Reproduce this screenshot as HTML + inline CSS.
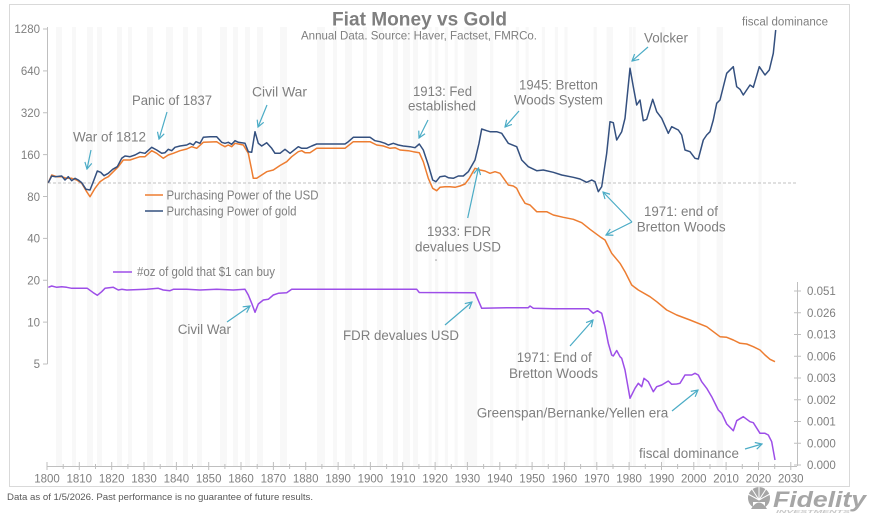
<!DOCTYPE html>
<html><head><meta charset="utf-8"><style>
html,body{margin:0;padding:0;background:#fff;}
svg{display:block;font-family:"Liberation Sans",Arial,sans-serif;}
</style></head><body>
<svg width="880" height="520" viewBox="0 0 880 520" xmlns="http://www.w3.org/2000/svg">
<defs>
<marker id="ah" markerWidth="8" markerHeight="8" refX="7" refY="4" orient="auto" markerUnits="userSpaceOnUse">
<path d="M0.5,0.5 L7,4 L0.5,7.5" fill="none" stroke="#4bacc6" stroke-width="1.2"/>
</marker>
</defs>
<rect x="0" y="0" width="880" height="520" fill="#fff"/>
<rect x="9.5" y="4.5" width="840" height="482" fill="none" stroke="#d9d9d9" stroke-width="1"/>
<!-- recession stripes -->
<g fill="#f8f8f8">
<rect x="56" y="27" width="6" height="439"/>
<rect x="72" y="27" width="4" height="439"/>
<rect x="87" y="27" width="6" height="439"/>
<rect x="97" y="27" width="5" height="439"/>
<rect x="117" y="27" width="5" height="439"/>
<rect x="128" y="27" width="4" height="439"/>
<rect x="147" y="27" width="6" height="439"/>
<rect x="166" y="27" width="7" height="439"/>
<rect x="183" y="27" width="5" height="439"/>
<rect x="197" y="27" width="5" height="439"/>
<rect x="220" y="27" width="7" height="439"/>
<rect x="233" y="27" width="5" height="439"/>
<rect x="245" y="27" width="5" height="439"/>
<rect x="257" y="27" width="6" height="439"/>
<rect x="280" y="27" width="7" height="439"/>
<rect x="317" y="27" width="8" height="439"/>
<rect x="333" y="27" width="4" height="439"/>
<rect x="345" y="27" width="7" height="439"/>
<rect x="363" y="27" width="4" height="439"/>
<rect x="377" y="27" width="6" height="439"/>
<rect x="393" y="27" width="5" height="439"/>
<rect x="403" y="27" width="7" height="439"/>
<rect x="413" y="27" width="5" height="439"/>
<rect x="428.6" y="27" width="3.2" height="439"/>
<rect x="435.1" y="27" width="3.2" height="439"/>
<rect x="444.8" y="27" width="3.2" height="439"/>
<rect x="454.5" y="27" width="3.2" height="439"/>
<rect x="464.2" y="27" width="12.9" height="439"/>
<rect x="490.1" y="27" width="3.2" height="439"/>
<rect x="515.9" y="27" width="3.2" height="439"/>
<rect x="525.6" y="27" width="3.2" height="439"/>
<rect x="541.8" y="27" width="3.2" height="439"/>
<rect x="554.8" y="27" width="3.2" height="439"/>
<rect x="564.4" y="27" width="3.2" height="439"/>
<rect x="593.5" y="27" width="3.2" height="439"/>
<rect x="606.5" y="27" width="6.5" height="439"/>
<rect x="629.1" y="27" width="3" height="439"/>
<rect x="632.8" y="27" width="3" height="439"/>
<rect x="661.5" y="27" width="3.2" height="439"/>
<rect x="697.1" y="27" width="3.2" height="439"/>
<rect x="716.5" y="27" width="6.5" height="439"/>
<rect x="758.5" y="27" width="3.2" height="439"/>
</g>
<!-- dashed baseline -->
<line x1="48" y1="183" x2="797" y2="183" stroke="#c0c0c0" stroke-width="1" stroke-dasharray="3,2"/>
<!-- left axis -->
<g stroke="#bfbfbf" stroke-width="1">
<line x1="47.5" y1="27" x2="47.5" y2="364"/>
<line x1="43" y1="29" x2="47.5" y2="29"/>
<line x1="43" y1="70.9" x2="47.5" y2="70.9"/>
<line x1="43" y1="112.75" x2="47.5" y2="112.75"/>
<line x1="43" y1="154.6" x2="47.5" y2="154.6"/>
<line x1="43" y1="196.5" x2="47.5" y2="196.5"/>
<line x1="43" y1="238.4" x2="47.5" y2="238.4"/>
<line x1="43" y1="280.25" x2="47.5" y2="280.25"/>
<line x1="43" y1="322.1" x2="47.5" y2="322.1"/>
<line x1="43" y1="364" x2="47.5" y2="364"/>
</g>
<g fill="#7f7f7f" font-size="11.5" text-anchor="end">
<text x="40" y="33">1280</text>
<text x="40" y="75">640</text>
<text x="40" y="117">320</text>
<text x="40" y="159">160</text>
<text x="40" y="201">80</text>
<text x="40" y="242.5">40</text>
<text x="40" y="284.5">20</text>
<text x="40" y="326.5">10</text>
<text x="40" y="368">5</text>
</g>
<!-- x axis -->
<g stroke="#bfbfbf" stroke-width="1">
<line x1="47" y1="466.5" x2="797" y2="466.5"/>
<line x1="47.0" y1="462" x2="47.0" y2="470"/><line x1="63.2" y1="464" x2="63.2" y2="469"/>
<line x1="79.3" y1="462" x2="79.3" y2="470"/><line x1="95.5" y1="464" x2="95.5" y2="469"/>
<line x1="111.7" y1="462" x2="111.7" y2="470"/><line x1="127.9" y1="464" x2="127.9" y2="469"/>
<line x1="144.0" y1="462" x2="144.0" y2="470"/><line x1="160.2" y1="464" x2="160.2" y2="469"/>
<line x1="176.4" y1="462" x2="176.4" y2="470"/><line x1="192.5" y1="464" x2="192.5" y2="469"/>
<line x1="208.7" y1="462" x2="208.7" y2="470"/><line x1="224.9" y1="464" x2="224.9" y2="469"/>
<line x1="241.0" y1="462" x2="241.0" y2="470"/><line x1="257.2" y1="464" x2="257.2" y2="469"/>
<line x1="273.4" y1="462" x2="273.4" y2="470"/><line x1="289.6" y1="464" x2="289.6" y2="469"/>
<line x1="305.7" y1="462" x2="305.7" y2="470"/><line x1="321.9" y1="464" x2="321.9" y2="469"/>
<line x1="338.1" y1="462" x2="338.1" y2="470"/><line x1="354.2" y1="464" x2="354.2" y2="469"/>
<line x1="370.4" y1="462" x2="370.4" y2="470"/><line x1="386.6" y1="464" x2="386.6" y2="469"/>
<line x1="402.7" y1="462" x2="402.7" y2="470"/><line x1="418.9" y1="464" x2="418.9" y2="469"/>
<line x1="435.1" y1="462" x2="435.1" y2="470"/><line x1="451.3" y1="464" x2="451.3" y2="469"/>
<line x1="467.4" y1="462" x2="467.4" y2="470"/><line x1="483.6" y1="464" x2="483.6" y2="469"/>
<line x1="499.8" y1="462" x2="499.8" y2="470"/><line x1="515.9" y1="464" x2="515.9" y2="469"/>
<line x1="532.1" y1="462" x2="532.1" y2="470"/><line x1="548.3" y1="464" x2="548.3" y2="469"/>
<line x1="564.4" y1="462" x2="564.4" y2="470"/><line x1="580.6" y1="464" x2="580.6" y2="469"/>
<line x1="596.8" y1="462" x2="596.8" y2="470"/><line x1="613.0" y1="464" x2="613.0" y2="469"/>
<line x1="629.1" y1="462" x2="629.1" y2="470"/><line x1="645.3" y1="464" x2="645.3" y2="469"/>
<line x1="661.5" y1="462" x2="661.5" y2="470"/><line x1="677.6" y1="464" x2="677.6" y2="469"/>
<line x1="693.8" y1="462" x2="693.8" y2="470"/><line x1="710.0" y1="464" x2="710.0" y2="469"/>
<line x1="726.1" y1="462" x2="726.1" y2="470"/><line x1="742.3" y1="464" x2="742.3" y2="469"/>
<line x1="758.5" y1="462" x2="758.5" y2="470"/><line x1="774.7" y1="464" x2="774.7" y2="469"/>
<line x1="790.8" y1="462" x2="790.8" y2="470"/>
</g>
<g fill="#7f7f7f" font-size="11.5" text-anchor="middle">
<text x="47.0" y="482.5">1800</text><text x="79.3" y="482.5">1810</text><text x="111.7" y="482.5">1820</text>
<text x="144.0" y="482.5">1830</text><text x="176.4" y="482.5">1840</text><text x="208.7" y="482.5">1850</text>
<text x="241.0" y="482.5">1860</text><text x="273.4" y="482.5">1870</text><text x="305.7" y="482.5">1880</text>
<text x="338.1" y="482.5">1890</text><text x="370.4" y="482.5">1900</text><text x="402.7" y="482.5">1910</text>
<text x="435.1" y="482.5">1920</text><text x="467.4" y="482.5">1930</text><text x="499.8" y="482.5">1940</text>
<text x="532.1" y="482.5">1950</text><text x="564.4" y="482.5">1960</text><text x="596.8" y="482.5">1970</text>
<text x="629.1" y="482.5">1980</text><text x="661.5" y="482.5">1990</text><text x="693.8" y="482.5">2000</text>
<text x="726.1" y="482.5">2010</text><text x="758.5" y="482.5">2020</text><text x="790.8" y="482.5">2030</text>
</g>
<!-- right axis -->
<g stroke="#bfbfbf" stroke-width="1">
<line x1="797.5" y1="282" x2="797.5" y2="466"/>
<line x1="794" y1="291" x2="801" y2="291"/>
<line x1="794" y1="312.75" x2="801" y2="312.75"/>
<line x1="794" y1="334.5" x2="801" y2="334.5"/>
<line x1="794" y1="356.25" x2="801" y2="356.25"/>
<line x1="794" y1="378" x2="801" y2="378"/>
<line x1="794" y1="399.75" x2="801" y2="399.75"/>
<line x1="794" y1="421.5" x2="801" y2="421.5"/>
<line x1="794" y1="443.25" x2="801" y2="443.25"/>
<line x1="794" y1="465" x2="801" y2="465"/>
</g>
<g fill="#7f7f7f" font-size="11.5">
<text x="807" y="295">0.051</text>
<text x="807" y="317">0.026</text>
<text x="807" y="338.5">0.013</text>
<text x="807" y="360.5">0.006</text>
<text x="807" y="382">0.003</text>
<text x="807" y="404">0.002</text>
<text x="807" y="425.5">0.001</text>
<text x="807" y="447.5">0.000</text>
<text x="807" y="469">0.000</text>
</g>
<!-- series -->
<polyline fill="none" stroke="#ed7d31" stroke-width="1.5" stroke-linejoin="round" points="48.3,182.7 51.7,175 56.7,176.7 61.7,176.7 66.7,178.3 71.7,178.3 76.7,180 81.7,183.3 86.7,191.7 90,196.7 95,188.3 100,181.7 105,178.3 108.3,176.7 113.3,171.7 118.3,166.7 123.3,160 130,160 135,158.3 140,156.7 145,156.7 151.7,150.7 156.7,153.3 163.3,158.3 168.3,155 173.3,153.3 180,150.7 186.7,149 191.7,146.7 196.7,148.3 203.3,142.3 216.7,141.7 221.7,145 225,146.7 228.3,145 231.7,146.7 235,143.3 243.3,145 248.3,153.3 251.7,170 253.3,178.3 256.7,178.3 261.7,175 266.7,171.7 273.3,170 280,165.5 286.7,161.7 291.7,156.7 298.3,151.7 301.7,150.7 305,152.7 310,152.7 316.7,148.3 345,148.3 353.3,141.7 370,141.7 376.7,145 383.3,146 390,148.3 395,147.7 400,150 408.3,150.7 413.3,151.7 419.3,152.7 423.3,161.7 428.3,178.3 432.7,188.3 436.7,190.7 440,187.3 445,186.7 450,186.7 455,187.3 460,186 465,184 469.3,178.3 475,168.3 480,170 485,171 490,173.3 495,171.7 500,173.3 506.7,182.7 508.3,185 513.3,186 516.7,188.3 520,195 525,203.3 530,205 536.7,211.7 546.7,211.7 553.3,215 563.3,217.3 573.3,219.3 581.7,222.7 590,229.3 600,236.7 605,240 611.7,253.3 620,263.3 625,271.7 631.7,285 638.3,290 650,296.7 656.7,301.7 666.7,310 676.7,315 690,320 706.7,326.7 720,336.7 726.7,337.3 733.3,340 740,343.3 746.7,344 753.3,346.7 760,350 765,355 770,359.3 775,361.7"/>
<polyline fill="none" stroke="#34507f" stroke-width="1.5" stroke-linejoin="round" points="48.3,182.7 51.7,176 55,176.7 61.7,176 65,180 68.3,176.7 71.7,180.7 75,178.3 78.3,180 81.7,182.7 86,189.3 90,190 93.3,181.7 97.3,171 100.7,172.3 104,175.7 108.3,173.3 112.7,169.3 117.3,166.7 121.7,158.3 125,156 130,156.7 135,155 140,152.3 145,153.3 151.7,147.3 156.7,150 161.7,153.3 165,152.7 168.3,149.3 171.7,150.7 175,147.3 180,146 186.7,145 190,143.3 193.3,145 196,141.7 200,143.3 203.3,137.3 210,136.7 216.7,136.7 221.7,142.3 225,143.3 228.3,142.3 231.7,144.3 235,140.7 238.3,142.3 245,143.3 248.3,151.7 251.7,152.3 255,131.7 258.3,143.3 261.7,146 266.7,142.7 271.7,148.3 275,153.3 280,153.3 285,149.3 290,153.3 295,149.3 298.3,146.7 301.7,148.3 306.7,148.3 311.7,146 316.7,144 345,144 348.3,141.7 353.3,137.3 370,137.3 375,140.7 380,141.7 385,143.3 388.3,145 393.3,143.3 398.3,145 403.3,146 410,146.7 415,147.7 419.3,144 423.3,150 428.3,165 432.7,180 436,181.7 440,176.7 445,176 448.3,177.7 453.3,178.3 458.3,176 463.3,176 468.3,171.7 475,160 479,143.3 481.7,129 486.7,130.7 490,131.7 496.7,131.7 501.7,133.3 508.3,143.3 516.7,146.7 521.7,160 528.3,166.7 531.7,168.3 536.7,170.7 543.3,170 553.3,172.3 561.7,175 573.3,177.3 580,179 586.7,182.3 591.7,180 595,181.7 598.3,191.7 601.7,186.7 606.7,153.3 610,121.7 613.3,122.7 616.7,140 621.7,131.7 625,118.3 630,68.3 633.3,86.7 636.7,105 640,100 643.3,120.7 646.7,119.3 652.7,99.3 656.7,111.7 661.7,118.3 668.3,133.3 671.7,126.7 678.3,130 681.7,135 685,150 690,151.7 695,158.3 698.3,159 703.3,140 706.7,135 710,131.7 713.3,120 716.7,103.3 720,100 726.7,73.3 733.3,66.7 736.7,86.7 740,89.3 743.3,95 750,85 753.3,87.3 759.3,66.7 765,75 769.3,70 773.3,53.3 775.7,30"/>
<polyline fill="none" stroke="#9d4ee8" stroke-width="1.5" stroke-linejoin="round" points="48.3,287.3 51.7,286 56.7,287.3 61.7,286.7 66.7,287.3 71.7,288.3 80,288.3 87.3,288.3 93.3,292.7 97.3,295.3 101.7,291.7 105,288.3 113.3,287.3 118.3,290 121.7,289.3 126.7,290 146.7,289.3 158.3,288.3 163.3,290 170,290.7 173.3,289.3 186.7,289.3 200,290 216.7,289.3 233.3,290 245,289.3 248.3,295 251.7,303.3 255,312.3 258.3,304 263.3,300 268.3,299.3 273.3,295 278.3,293.3 286.7,292.7 291.7,289.3 416.7,289.3 419.3,292.5 475,292.7 481.7,308.3 506.7,307.7 528.3,307.7 530,306 533.3,308.3 553.3,308.7 588.3,308.7 593.3,313.3 597.3,310.7 601.7,313.3 605,326.7 608.3,343.3 611.7,355 613.3,356 616.7,350.5 620,356.7 621.7,358.3 625,370 630,398.3 635,388.3 638.3,383.3 641.7,386.7 644,378.3 648.3,381.7 653.3,391.7 656.7,386.7 661.7,385 668.3,381 671.7,384.3 676.7,384 680,383.3 685,375 691.7,375 695,373.3 698.3,375 701.7,381.7 706.7,388.3 711.7,396.7 718.3,410 721.7,413.3 726.7,424 733.3,430.7 736.7,420.7 743.3,416.7 750,421.7 753.3,422.7 760,433.3 765,433.3 768.3,435 771.7,441.7 775,460"/>
<!-- legend -->
<line x1="145" y1="195" x2="163" y2="195" stroke="#ed7d31" stroke-width="1.5"/>
<line x1="145" y1="211" x2="163" y2="211" stroke="#34507f" stroke-width="1.5"/>
<line x1="113" y1="272" x2="132" y2="272" stroke="#9d4ee8" stroke-width="1.5"/>
<g fill="#7f7f7f" font-size="12.5">
<text x="166.5" y="199.5" textLength="152" lengthAdjust="spacingAndGlyphs">Purchasing Power of the USD</text>
<text x="166.5" y="215.5" textLength="130" lengthAdjust="spacingAndGlyphs">Purchasing Power of gold</text>
<text x="137" y="276" textLength="138" lengthAdjust="spacingAndGlyphs">#oz of gold that $1 can buy</text>
</g>
<!-- title -->
<text x="419.5" y="25.5" text-anchor="middle" font-size="19" font-weight="bold" fill="#7f7f7f" textLength="175" lengthAdjust="spacingAndGlyphs">Fiat Money vs Gold</text>
<text x="419" y="39.5" text-anchor="middle" font-size="12" fill="#7f7f7f" textLength="236" lengthAdjust="spacingAndGlyphs">Annual Data. Source: Haver, Factset, FMRCo.</text>
<!-- annotations -->
<g fill="#7f7f7f" font-size="13.5">
<text x="73" y="141.7" textLength="73" lengthAdjust="spacingAndGlyphs">War of 1812</text>
<text x="132" y="105" textLength="80" lengthAdjust="spacingAndGlyphs">Panic of 1837</text>
<text x="252" y="96.5" textLength="55" lengthAdjust="spacingAndGlyphs">Civil War</text>
<text x="413" y="96" textLength="59" lengthAdjust="spacingAndGlyphs">1913: Fed</text>
<text x="408" y="110.5" textLength="68" lengthAdjust="spacingAndGlyphs">established</text>
<text x="519" y="89.5" textLength="79" lengthAdjust="spacingAndGlyphs">1945: Bretton</text>
<text x="514" y="104.5" textLength="89" lengthAdjust="spacingAndGlyphs">Woods System</text>
<text x="644" y="42.5" textLength="44" lengthAdjust="spacingAndGlyphs">Volcker</text>
<text x="427" y="236" textLength="64" lengthAdjust="spacingAndGlyphs">1933: FDR</text>
<text x="415" y="251.7" textLength="86" lengthAdjust="spacingAndGlyphs">devalues USD</text>
<text x="644" y="216" textLength="74" lengthAdjust="spacingAndGlyphs">1971: end of</text>
<text x="636.7" y="231.7" textLength="89" lengthAdjust="spacingAndGlyphs">Bretton Woods</text>
<text x="177.7" y="334" textLength="53.3" lengthAdjust="spacingAndGlyphs">Civil War</text>
<text x="343" y="340" textLength="116" lengthAdjust="spacingAndGlyphs">FDR devalues USD</text>
<text x="516.7" y="362" textLength="75" lengthAdjust="spacingAndGlyphs">1971: End of</text>
<text x="509" y="378" textLength="89" lengthAdjust="spacingAndGlyphs">Bretton Woods</text>
<text x="476.7" y="417.5" textLength="191.6" lengthAdjust="spacingAndGlyphs">Greenspan/Bernanke/Yellen era</text>
<text x="639" y="458" textLength="100" lengthAdjust="spacingAndGlyphs">fiscal dominance</text>
</g>
<text x="742" y="25.5" font-size="11.5" fill="#7f7f7f" textLength="86" lengthAdjust="spacingAndGlyphs">fiscal dominance</text>
<circle cx="436" cy="260" r="0.8" fill="#999"/>
<!-- arrows -->
<g stroke="#4bacc6" stroke-width="1.2" fill="none" marker-end="url(#ah)">
<line x1="91" y1="150" x2="87" y2="169"/>
<line x1="167" y1="112" x2="159" y2="139"/>
<line x1="267" y1="105" x2="258" y2="127"/>
<line x1="428" y1="120" x2="419" y2="138"/>
<line x1="519" y1="111" x2="505" y2="127"/>
<line x1="648" y1="47" x2="632" y2="61"/>
<line x1="467.7" y1="218" x2="478.5" y2="168"/>
<line x1="632" y1="222" x2="603" y2="192"/>
<line x1="632" y1="222" x2="606" y2="235"/>
<line x1="227" y1="322" x2="250" y2="306"/>
<line x1="445" y1="325" x2="472" y2="302"/>
<line x1="570" y1="346" x2="593" y2="320"/>
<line x1="672" y1="411" x2="698" y2="390"/>
<line x1="745" y1="449" x2="762" y2="444"/>
</g>
<!-- footer -->
<text x="7" y="500" font-size="9.3" fill="#595959" textLength="306" lengthAdjust="spacingAndGlyphs">Data as of 1/5/2026. Past performance is no guarantee of future results.</text>
<!-- Fidelity logo -->
<g>
<circle cx="759" cy="498" r="11" fill="#a6a6a6"/>
<g stroke="#fff" stroke-width="1">
<line x1="759" y1="500" x2="759" y2="487"/>
<line x1="759" y1="500" x2="752" y2="489"/>
<line x1="759" y1="500" x2="766" y2="489"/>
<line x1="759" y1="500" x2="748" y2="494"/>
<line x1="759" y1="500" x2="770" y2="494"/>
</g>
<rect x="753" y="502" width="12" height="8" fill="#fff"/>
<path d="M751,509 Q759,496 767,509 Z" fill="#a6a6a6"/>
<text x="773" y="507" font-size="22" font-weight="bold" font-style="italic" fill="#a6a6a6" textLength="93" lengthAdjust="spacingAndGlyphs">Fidelity</text>
<text x="776" y="513" font-size="4.5" font-weight="bold" font-style="italic" fill="#c8c8c8" textLength="74" lengthAdjust="spacingAndGlyphs">INVESTMENTS</text>
</g>
</svg>
</body></html>
